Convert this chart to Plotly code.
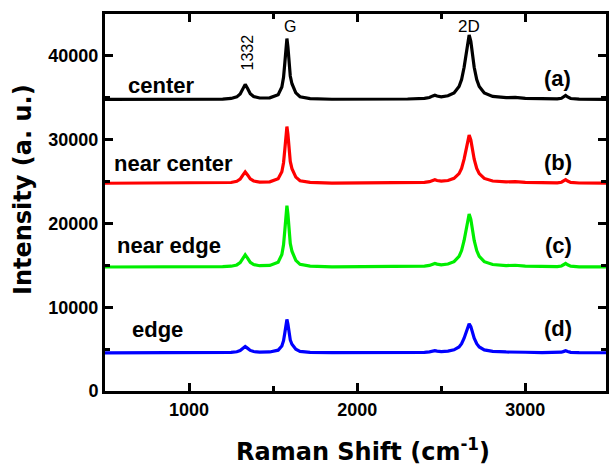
import plotly.graph_objects as go

# Raman shift sample positions (cm^-1), shared by all four spectra
raman_shift = [500, 800, 1100, 1200, 1250, 1284, 1304, 1319, 1334, 1349, 1364, 1384, 1420,
               1480, 1530, 1552, 1562, 1570, 1576, 1582, 1588, 1594, 1602, 1612, 1622, 1635,
               1660, 1720, 1850, 2100, 2300, 2400, 2430, 2450, 2462, 2475, 2500, 2540, 2576,
               2606, 2621, 2636, 2646, 2656, 2666, 2676, 2686, 2696, 2711, 2726, 2756, 2806,
               2886, 2940, 3000, 3100, 3190, 3215, 3230, 3240, 3252, 3270, 3320, 3480]

intensity_center = [34800, 34800, 34815, 34850, 34920, 35105, 35450, 36040, 36600, 36070, 35485,
                    35147, 34976, 34992, 35377, 36280, 37434, 39240, 41049, 42071, 41082, 39316,
                    37600, 36675, 36254, 35586, 35119, 34904, 34825, 34822, 34857, 34932, 35031,
                    35226, 35312, 35209, 35116, 35237, 35580, 36346, 37187, 38650, 40113, 41730,
                    42500, 41730, 40113, 38650, 37187, 36340, 35570, 35157, 35008, 35042, 34931,
                    34853, 34862, 34941, 35134, 35272, 35097, 34911, 34834, 34812]

intensity_near_center = [24800, 24800, 24812, 24836, 24890, 25030, 25286, 25732, 26150, 25759,
                         25320, 25070, 24943, 24972, 25334, 26173, 27247, 28928, 30612, 31563,
                         30642, 29000, 27401, 26538, 26145, 25527, 25096, 24897, 24820, 24817,
                         24843, 24902, 24985, 25149, 25221, 25130, 25044, 25128, 25383, 25948,
                         26579, 27670, 28761, 29966, 30540, 29966, 28761, 27670, 26579, 25948,
                         25374, 25069, 24963, 24999, 24905, 24841, 24850, 24921, 25093, 25217,
                         25061, 24897, 24825, 24806]

intensity_near_edge = [14800, 14800, 14813, 14839, 14897, 15047, 15322, 15800, 16250, 15829,
                       15358, 15091, 14955, 14985, 15377, 16286, 17448, 19268, 21090, 22119,
                       21122, 19346, 17615, 16683, 16259, 15589, 15121, 14905, 14822, 14819,
                       14847, 14910, 14994, 15160, 15233, 15144, 15063, 15160, 15442, 16066,
                       16762, 17965, 19168, 20497, 21130, 20497, 19168, 17965, 16762, 16066,
                       15433, 15095, 14974, 15006, 14910, 14844, 14852, 14923, 15095, 15219,
                       15063, 14899, 14827, 14806]

intensity_edge = [4560, 4560, 4567, 4580, 4610, 4686, 4826, 5071, 5300, 5087, 4846, 4710, 4641,
                  4660, 4874, 5369, 6002, 6994, 7986, 8546, 8003, 7035, 6092, 5581, 5348, 4986,
                  4734, 4617, 4572, 4570, 4586, 4622, 4672, 4770, 4813, 4758, 4707, 4758, 4912,
                  5254, 5636, 6295, 6954, 7683, 8030, 7683, 6954, 6295, 5636, 5254, 4907, 4723,
                  4659, 4682, 4624, 4584, 4589, 4630, 4729, 4800, 4710, 4616, 4575, 4563]

series_names = ["center", "near center", "near edge", "edge"]
series_tags = ["(a)", "(b)", "(c)", "(d)"]
series_colors = ["#000000", "#ff0000", "#00ee00", "#0000ff"]
series_values = [intensity_center, intensity_near_center, intensity_near_edge, intensity_edge]

x_ticks = [1000, 2000, 3000]
y_ticks = [0, 10000, 20000, 30000, 40000]

fig = go.Figure()
for name, color, vals in zip(series_names, series_colors, series_values):
    fig.add_trace(go.Scatter(x=raman_shift, y=vals, mode="lines", name=name,
                             line=dict(color=color, width=3.2)))

BOLD = dict(family="Liberation Sans, Arial, sans-serif", weight="bold", color="black")

# sample labels (left) and letter tags (right), placed in data coordinates
name_pos = [(831, 36430), (908, 27200), (878, 17320), (813, 7380)]
tag_pos = [(3194, 37260), (3194, 27260), (3200, 17380), (3194, 7500)]
for name, (xx, yy) in zip(series_names, name_pos):
    fig.add_annotation(x=xx, y=yy, text=name, showarrow=False, xanchor="center",
                       yanchor="middle", font=dict(BOLD, size=22))
for tag, (xx, yy) in zip(series_tags, tag_pos):
    fig.add_annotation(x=xx, y=yy, text=tag, showarrow=False, xanchor="center",
                       yanchor="middle", font=dict(BOLD, size=22))

# peak labels
fig.add_annotation(x=1350, y=40390, text="1332", textangle=-90, showarrow=False,
                   font=dict(family="Liberation Sans, Arial, sans-serif", size=16, color="black"))
fig.add_annotation(x=1599, y=43540, text="G", showarrow=False,
                   font=dict(family="Liberation Sans, Arial, sans-serif", size=16, color="black"))
fig.add_annotation(x=2664, y=43540, text="2D", showarrow=False,
                   font=dict(family="Liberation Sans, Arial, sans-serif", size=17, color="black"))

# axis titles
TITLE = dict(family="DejaVu Sans, sans-serif", weight="bold", size=24, color="black")
fig.add_annotation(xref="paper", yref="paper", x=0.514, y=-0.156, text="Raman Shift (cm<sup>-1</sup>)",
                   showarrow=False, xanchor="center", yanchor="middle", font=TITLE)
fig.add_annotation(xref="paper", yref="paper", x=-0.165, y=0.534, text="Intensity (a. u.)",
                   textangle=-90, showarrow=False, xanchor="center", yanchor="middle", font=TITLE)

axis_common = dict(showgrid=False, zeroline=False, showline=True, linecolor="black", linewidth=3,
                   mirror="ticks", ticks="inside", ticklen=8, tickwidth=2.5, tickcolor="black",
                   tickfont=dict(BOLD, size=18))

fig.update_xaxes(range=[500, 3480], tickvals=x_ticks, ticktext=[str(v) for v in x_ticks],
                 minor=dict(dtick=500, tick0=0, ticks="inside", ticklen=5, tickwidth=2.5,
                            tickcolor="black"),
                 **axis_common)
fig.update_yaxes(range=[0, 45000], tickvals=y_ticks, ticktext=[str(v) for v in y_ticks],
                 minor=dict(dtick=5000, tick0=0, ticks="inside", ticklen=5, tickwidth=2.5,
                            tickcolor="black"),
                 **axis_common)

fig.update_layout(width=611, height=467, margin=dict(l=105, r=2, t=14, b=76),
                  plot_bgcolor="white", paper_bgcolor="white", showlegend=False)

fig.write_html("out.html", config={"displayModeBar": False},
               post_script="document.body.style.margin='0';document.body.style.overflow='hidden';")
